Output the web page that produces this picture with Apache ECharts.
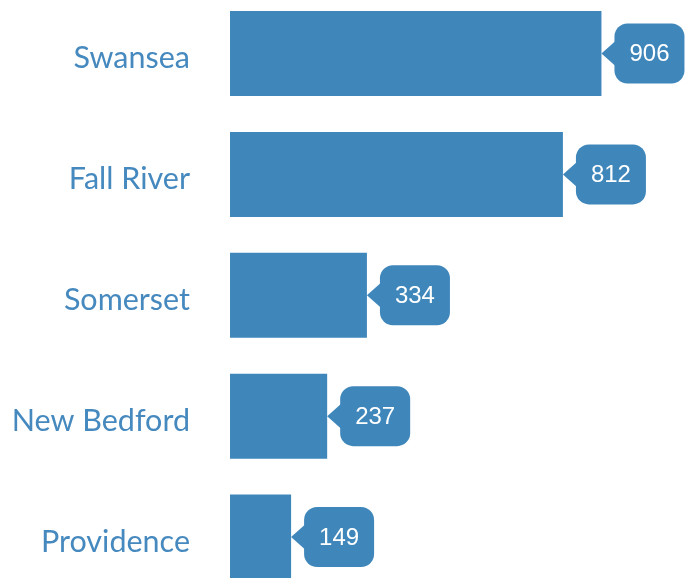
<!DOCTYPE html>
<html>
<head>
<meta charset="utf-8">
<script src="https://cdn.jsdelivr.net/npm/echarts@6/dist/echarts.min.js"></script>
<style>
  html, body { margin: 0; padding: 0; background: #fff; }
  #main { width: 692px; height: 578px; }
</style>
</head>
<body>
<div id="main"></div>
<script>
const cities = ["Swansea", "Fall River", "Somerset", "New Bedford", "Providence"];
const counts = [906, 812, 334, 237, 149];

const barColor = "#3f87bb";

const chart = echarts.init(document.getElementById("main"));

const option = {
  animation: false,
  // categories sit on the tick points, first and last bar centres at the grid edges
  grid: { left: 230, right: 52, top: 53.5, bottom: 41 },
  xAxis: {
    type: "value",
    min: 0,
    max: 1000,
    show: false
  },
  yAxis: {
    type: "category",
    data: cities,
    inverse: true,
    boundaryGap: false,
    axisLine: { show: false },
    axisTick: { show: false },
    splitLine: { show: false },
    axisLabel: {
      margin: 40,
      color: "#4589bf",
      fontFamily: "Lato",
      fontSize: 30.5,
      // nudge the names a few px below the bar centre, like the original
      verticalAlign: "top",
      lineHeight: 10
    }
  },
  series: [
    {
      type: "bar",
      data: counts,
      barWidth: 85,
      itemStyle: { color: barColor }
    },
    {
      // callout boxes with a little pointer at the bar end
      type: "custom",
      data: counts.map((v, i) => [v, i]),
      renderItem(params, api) {
        const p = api.coord([api.value(0), api.value(1)]);
        const x = p[0], y = p[1];
        const tip = 13, w = 70, h = 60;
        return {
          type: "group",
          children: [
            {
              type: "polygon",
              shape: { points: [[x, y], [x + tip + 1, y - 12.5], [x + tip + 1, y + 12.5]] },
              style: { fill: barColor }
            },
            {
              type: "rect",
              shape: { x: x + tip, y: y - h / 2, width: w, height: h, r: 13 },
              style: { fill: barColor }
            },
            {
              type: "text",
              x: x + tip + w / 2,
              y: y + 1,
              style: {
                text: String(api.value(0)),
                fill: "#fff",
                font: "24px 'Liberation Sans', Arial, sans-serif",
                align: "center",
                verticalAlign: "middle"
              }
            }
          ]
        };
      }
    }
  ]
};

chart.setOption(option);
</script>
</body>
</html>
